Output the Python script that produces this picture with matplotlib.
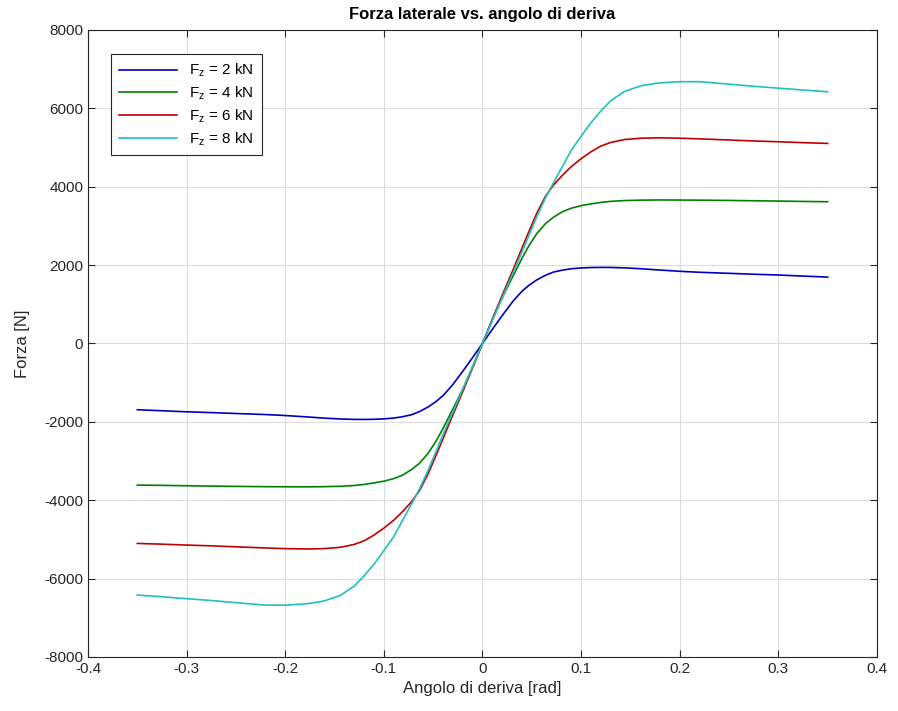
import numpy as np
import matplotlib
matplotlib.use('Agg')
import matplotlib.pyplot as plt
from matplotlib.ticker import FuncFormatter

plt.rcParams['font.family'] = ['Liberation Sans', 'DejaVu Sans']
plt.rcParams['mathtext.fontset'] = 'custom'
plt.rcParams['mathtext.rm'] = 'Liberation Sans'
plt.rcParams['mathtext.it'] = 'Liberation Sans'
plt.rcParams['axes.unicode_minus'] = False

# angolo di deriva [rad]
alpha = [-0.35, -0.325, -0.30, -0.275, -0.25, -0.22, -0.20, -0.178, -0.161, -0.144,
         -0.13, -0.12, -0.11, -0.10, -0.09, -0.081, -0.072, -0.064, -0.055, -0.047,
         -0.04, -0.031, -0.02, -0.01, 0.0,
         0.01, 0.02, 0.031, 0.04, 0.047, 0.055, 0.064, 0.072, 0.081, 0.09,
         0.10, 0.11, 0.12, 0.13, 0.144, 0.161, 0.178, 0.20, 0.22, 0.25,
         0.275, 0.30, 0.325, 0.35]

fy_2kN = [-1692, -1718, -1745, -1765, -1788, -1815, -1840, -1875, -1905, -1928,
          -1938, -1940, -1936, -1925, -1905, -1870, -1820, -1740, -1620, -1480,
          -1330, -1080, -710, -360, 0,
          360, 710, 1080, 1330, 1480, 1620, 1740, 1820, 1870, 1905,
          1925, 1936, 1940, 1938, 1928, 1905, 1875, 1840, 1815, 1788,
          1765, 1745, 1718, 1692]

fy_4kN = [-3615, -3622, -3632, -3640, -3648, -3655, -3658, -3660, -3655, -3645,
          -3625, -3597, -3560, -3515, -3450, -3360, -3220, -3060, -2800, -2490,
          -2170, -1720, -1170, -600, 0,
          600, 1170, 1720, 2170, 2490, 2800, 3060, 3220, 3360, 3450,
          3515, 3560, 3597, 3625, 3645, 3655, 3660, 3658, 3655, 3648,
          3640, 3632, 3622, 3615]

fy_6kN = [-5103, -5122, -5145, -5165, -5190, -5219, -5236, -5245, -5236, -5202,
          -5128, -5035, -4890, -4713, -4510, -4290, -4040, -3760, -3320, -2850,
          -2430, -1880, -1230, -620, 0,
          620, 1230, 1880, 2430, 2850, 3320, 3760, 4040, 4290, 4510,
          4713, 4890, 5035, 5128, 5202, 5236, 5245, 5236, 5219, 5190,
          5165, 5145, 5122, 5103]

fy_8kN = [-6420, -6465, -6513, -6560, -6615, -6678, -6678, -6643, -6575, -6429,
          -6190, -5930, -5630, -5288, -4930, -4510, -4100, -3720, -3230, -2750,
          -2330, -1800, -1170, -590, 0,
          590, 1170, 1800, 2330, 2750, 3230, 3720, 4100, 4510, 4930,
          5288, 5630, 5930, 6190, 6429, 6575, 6643, 6678, 6678, 6615,
          6560, 6513, 6465, 6420]

series = [fy_2kN, fy_4kN, fy_6kN, fy_8kN]
labels = [r'F$_\mathrm{z}$ = 2 kN', r'F$_\mathrm{z}$ = 4 kN',
          r'F$_\mathrm{z}$ = 6 kN', r'F$_\mathrm{z}$ = 8 kN']
colors = ['#0000c0', '#008000', '#c00000', '#20c0c0']


def fmt(v, p):
    v = round(v, 4)
    if v == 0:
        return '0'
    return '%g' % v


fig = plt.figure(figsize=(8.98, 7.11), dpi=100)
ax = fig.add_axes([0.098, 0.076, 0.8786, 0.882])

for fy, lab, col in zip(series, labels, colors):
    ax.plot(alpha, fy, color=col, lw=1.2, label=lab)

ax.set_xlim(-0.4, 0.4)
ax.set_ylim(-8000, 8000)
ax.set_xticks(np.arange(-0.4, 0.41, 0.1))
ax.set_yticks(np.arange(-8000, 8001, 2000))
ax.xaxis.set_major_formatter(FuncFormatter(fmt))
ax.yaxis.set_major_formatter(FuncFormatter(fmt))
ax.tick_params(direction='in', top=True, right=True, labelsize=11, length=5,
               width=0.8, colors='#262626')
ax.grid(True, color='#dcdcdc', lw=0.8)
for s in ax.spines.values():
    s.set_color('#262626')
    s.set_linewidth(0.8)

ax.set_title('Forza laterale vs. angolo di deriva', fontsize=12, fontweight='bold', pad=8)
ax.set_xlabel('Angolo di deriva [rad]', fontsize=12, color='#262626')
ax.set_ylabel('Forza [N]', fontsize=12, color='#262626', labelpad=10)

leg = ax.legend(loc='upper left', bbox_to_anchor=(0.02, 0.973), fontsize=11,
                fancybox=False, edgecolor='#262626', framealpha=1,
                handlelength=3.8, borderpad=0.5, labelspacing=0.35)
leg.get_frame().set_linewidth(0.8)

fig.savefig('out.png', dpi=100)
